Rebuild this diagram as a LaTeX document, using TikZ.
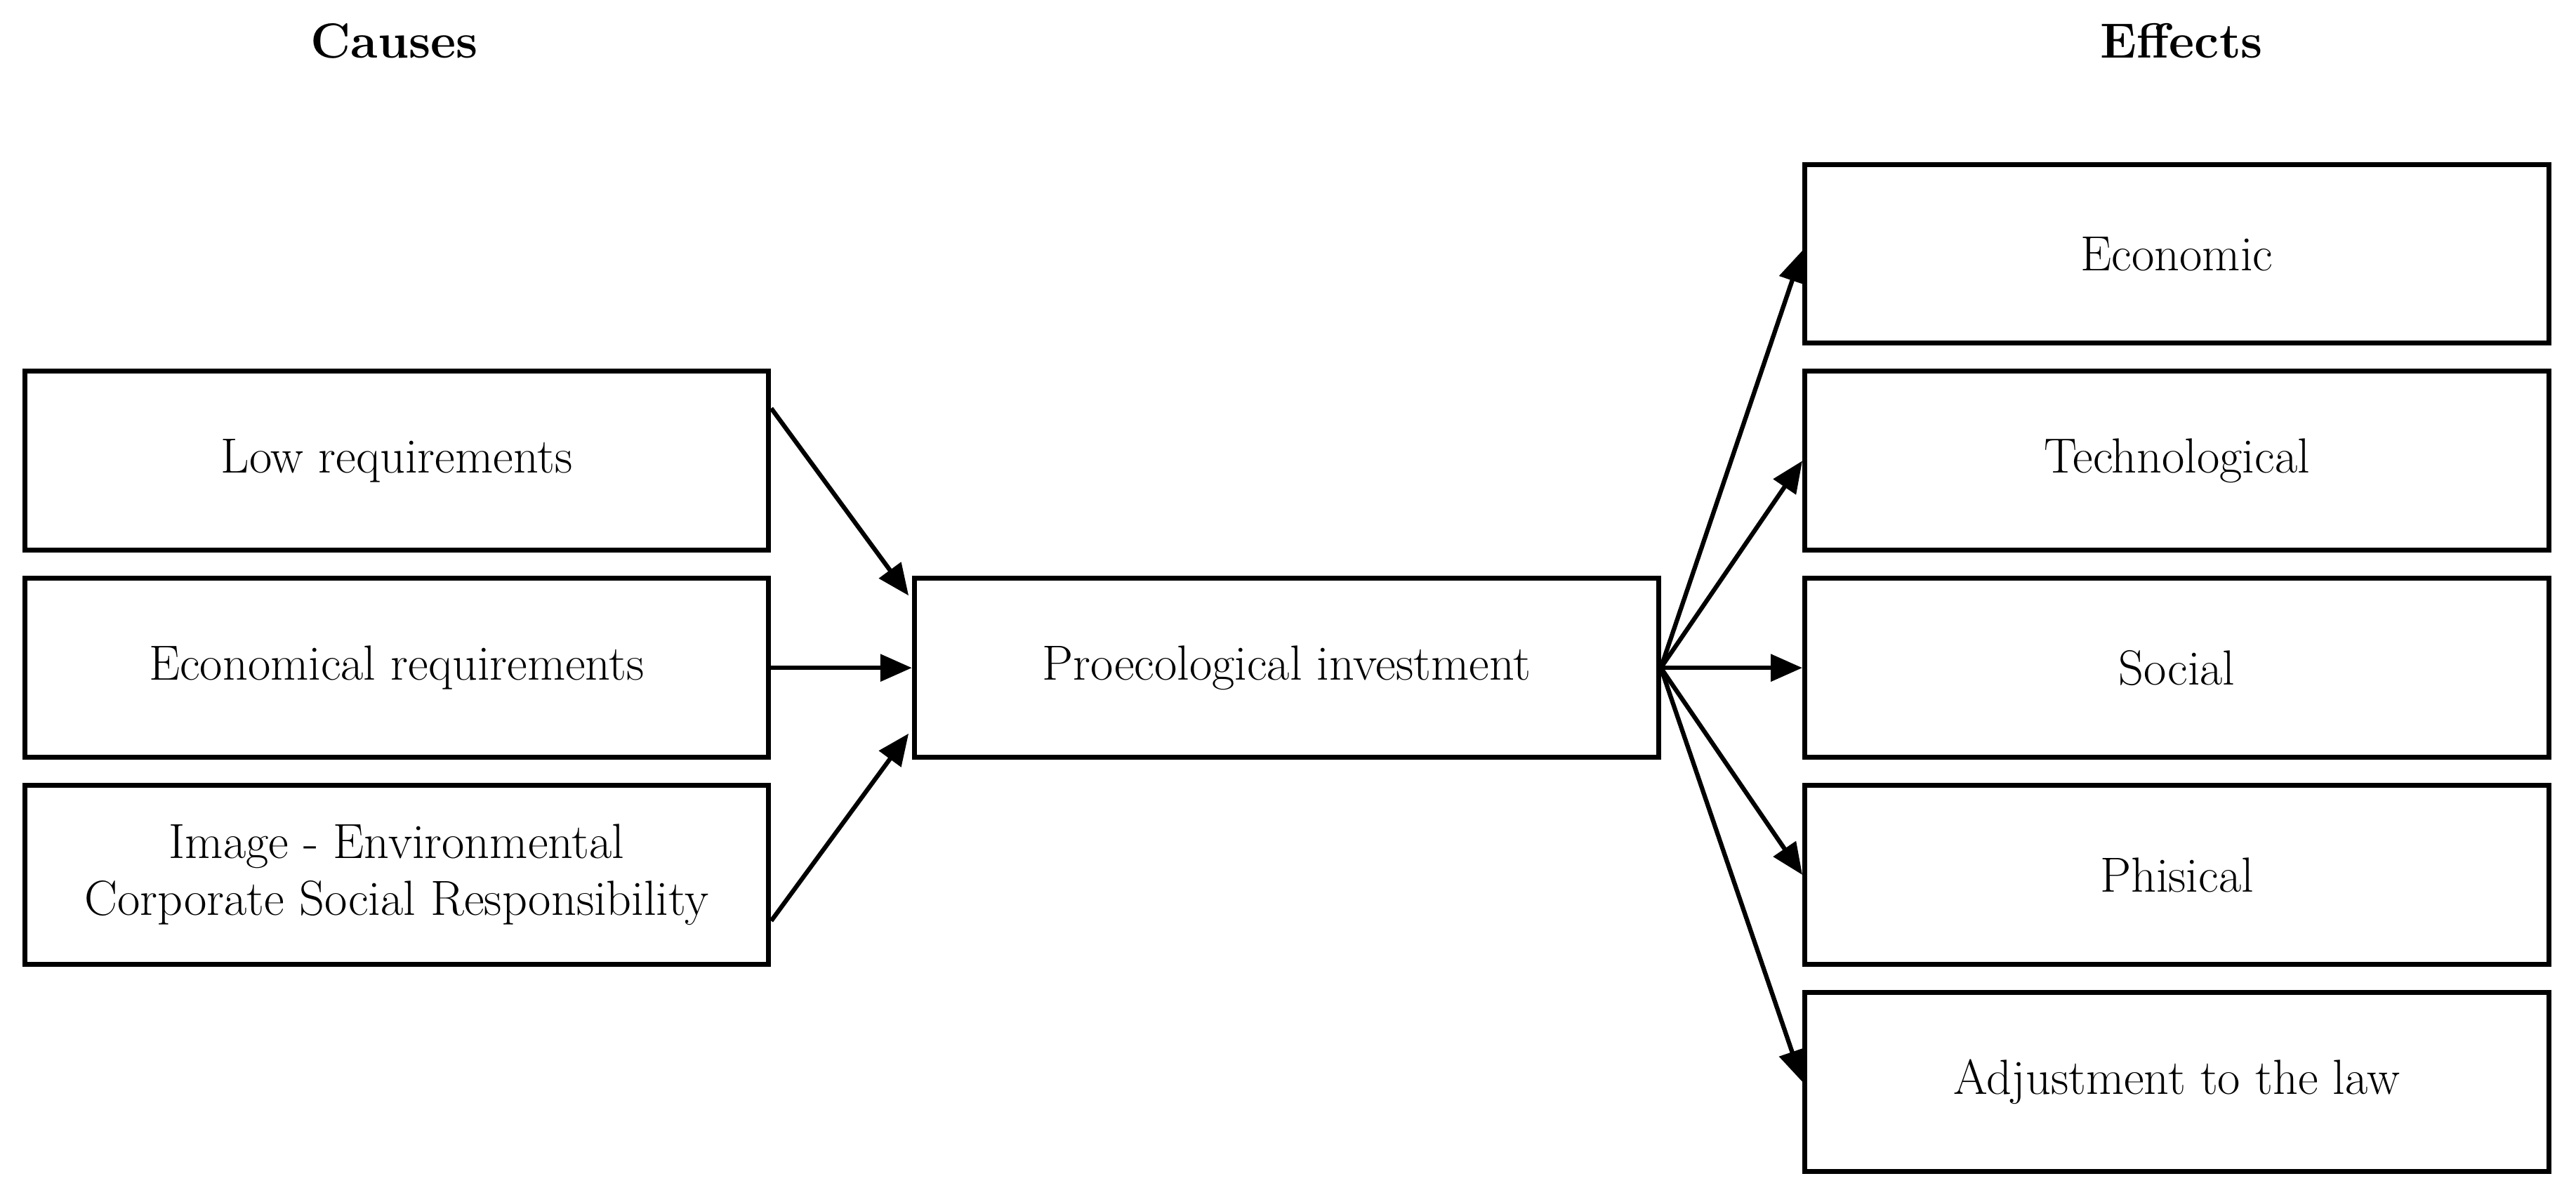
\documentclass[tikz,border=0pt]{standalone}
\usetikzlibrary{arrows.meta,calc}
\begin{document}
\begin{tikzpicture}[x=0.0234cm,y=-0.0234cm,
 box/.style={draw,line width=2pt,minimum width=10.6cm,minimum height=2.55cm,inner sep=0pt,font=\fontsize{20}{23}\selectfont,align=center},
 head/.style={font=\fontsize{20}{23}\selectfont\bfseries},
 arr/.style={line width=1.8pt,-{Triangle[length=0.45cm,width=0.38cm]}}]
\useasboundingbox (0,0) rectangle (1568,727);
\node[head] (causes) at (240,25) {Causes};
\node[head] (effects) at (1328,25) {Effects};
\node[box] (low) at (241.5,280.5) {Low requirements};
\node[box] (econ) at (241.5,406.5) {Economical requirements};
\node[box] (img) at (241.5,532.5) {Image - Environmental\\Corporate Social Responsibility};
\node[box] (inv) at (783,406.5) {Proecological investment};
\node[box] (e1) at (1325,154.5) {Economic};
\node[box] (e2) at (1325,280.5) {Technological};
\node[box] (e3) at (1325,406.5) {Social};
\node[box] (e4) at (1325,532.5) {Phisical};
\node[box] (e5) at (1325,658.5) {Adjustment to the law};
\coordinate (s1) at ($(low.north east)+(0,24)$);
\coordinate (s3) at ($(img.north east)+(0,84)$);
\coordinate (t1) at ($(inv.north west)+(-2,12)$);
\coordinate (t3) at ($(inv.south west)+(-2,-16)$);
\draw[arr] (s1) -- (t1);
\draw[arr] (econ.east) -- (inv.west);
\draw[arr] (s3) -- (t3);
\draw[arr] (inv.east) -- ($(e1.west)+(0,-2)$);
\draw[arr] (inv.east) -- (e2.west);
\draw[arr] (inv.east) -- (e3.west);
\draw[arr] (inv.east) -- (e4.west);
\draw[arr] (inv.east) -- (e5.west);
\end{tikzpicture}
\end{document}
